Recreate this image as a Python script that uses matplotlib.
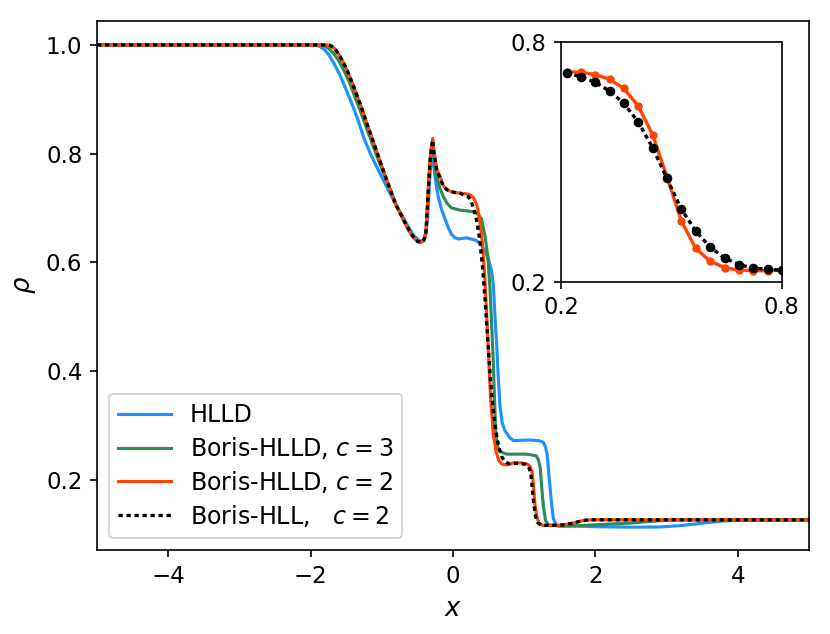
import matplotlib
matplotlib.use("Agg")
import matplotlib.pyplot as plt

# ---------------- data ----------------
# HLLD
x_hlld = [-5.0, -1.95, -1.88, -1.81, -1.74, -1.68, -1.60, -1.54, -1.47, -1.40, -1.33,
          -1.25, -1.15, -1.05, -0.95, -0.85, -0.75, -0.70, -0.62, -0.56, -0.50, -0.46,
          -0.42, -0.39, -0.36, -0.34, -0.32, -0.30, -0.29, -0.275, -0.25, -0.21, -0.16,
          -0.11, -0.06, -0.02, 0.03, 0.08, 0.19, 0.31, 0.38, 0.45, 0.50, 0.54, 0.566,
          0.59, 0.614, 0.635, 0.66, 0.69, 0.73, 0.80, 0.85, 1.08, 1.20, 1.27, 1.30,
          1.32, 1.34, 1.36, 1.385, 1.41, 1.456, 1.60, 1.78, 2.00, 2.49, 2.90, 3.20,
          3.50, 3.80, 4.10, 5.0]
y_hlld = [1.0, 1.0, 0.998, 0.992, 0.981, 0.968, 0.948, 0.930, 0.908, 0.885, 0.860,
          0.828, 0.797, 0.770, 0.744, 0.718, 0.694, 0.682, 0.664, 0.651, 0.643, 0.639,
          0.640, 0.647, 0.675, 0.720, 0.765, 0.800, 0.812, 0.785, 0.755, 0.722, 0.697,
          0.679, 0.662, 0.651, 0.645, 0.643, 0.645, 0.641, 0.636, 0.620, 0.605, 0.585,
          0.560, 0.500, 0.446, 0.390, 0.336, 0.305, 0.290, 0.277, 0.272, 0.273, 0.272,
          0.2686, 0.260, 0.248, 0.220, 0.190, 0.155, 0.128, 0.1155, 0.1148, 0.1144,
          0.1135, 0.1126, 0.113, 0.1155, 0.120, 0.124, 0.1258, 0.126]

# Boris-HLLD, c = 3
x_bh3 = [-5.0, -1.86, -1.80, -1.74, -1.68, -1.61, -1.54, -1.47, -1.40, -1.30, -1.20,
         -1.10, -1.00, -0.90, -0.80, -0.70, -0.60, -0.55, -0.50, -0.45, -0.41, -0.38,
         -0.36, -0.34, -0.32, -0.30, -0.285, -0.27, -0.25, -0.23, -0.18, -0.136, -0.08,
         -0.02, 0.10, 0.24, 0.33, 0.40, 0.45, 0.49, 0.52, 0.545, 0.565, 0.585, 0.60,
         0.625, 0.66, 0.75, 1.03, 1.17, 1.20, 1.225, 1.25, 1.27, 1.30, 1.34, 1.50,
         1.78, 2.00, 2.25, 2.49, 2.75, 3.00, 3.30, 5.0]
y_bh3 = [1.0, 1.0, 0.998, 0.993, 0.985, 0.972, 0.955, 0.936, 0.912, 0.878, 0.842,
         0.806, 0.772, 0.740, 0.707, 0.678, 0.654, 0.645, 0.639, 0.637, 0.641, 0.655,
         0.700, 0.750, 0.790, 0.812, 0.822, 0.800, 0.775, 0.758, 0.735, 0.721, 0.708,
         0.700, 0.696, 0.694, 0.691, 0.680, 0.648, 0.610, 0.550, 0.480, 0.420, 0.340,
         0.290, 0.262, 0.252, 0.247, 0.247, 0.244, 0.236, 0.222, 0.180, 0.150, 0.125,
         0.117, 0.1144, 0.1155, 0.117, 0.1186, 0.120, 0.123, 0.1255, 0.126, 0.126]

# Boris-HLLD, c = 2
x_bh2 = [-5.0, -1.78, -1.72, -1.66, -1.60, -1.54, -1.47, -1.40, -1.30, -1.26, -1.20,
         -1.10, -1.00, -0.90, -0.80, -0.70, -0.65, -0.60, -0.55, -0.50, -0.45, -0.41,
         -0.38, -0.36, -0.34, -0.32, -0.30, -0.285, -0.27, -0.25, -0.23, -0.18, -0.14,
         -0.09, -0.03, 0.05, 0.12, 0.18,
         0.215, 0.254, 0.293, 0.332, 0.371, 0.410, 0.449, 0.488, 0.527, 0.566, 0.605,
         0.645, 0.684, 0.723, 0.762, 0.801,
         0.85, 0.95, 1.04, 1.08, 1.11, 1.13, 1.15, 1.18, 1.21, 1.26, 1.40, 1.55, 1.65,
         1.74, 1.82, 1.92, 2.20, 5.0]
y_bh2 = [1.0, 1.0, 0.999, 0.993, 0.982, 0.968, 0.948, 0.925, 0.890, 0.875, 0.852,
         0.815, 0.777, 0.740, 0.705, 0.680, 0.667, 0.655, 0.645, 0.639, 0.637, 0.641,
         0.655, 0.700, 0.750, 0.790, 0.815, 0.828, 0.806, 0.790, 0.772, 0.757, 0.742,
         0.734, 0.730, 0.728, 0.727, 0.726,
         0.725, 0.7233, 0.718, 0.7058, 0.6833, 0.639, 0.568, 0.4625, 0.3525, 0.2833,
         0.2517, 0.235, 0.229, 0.2275, 0.2275, 0.229,
         0.231, 0.231, 0.229, 0.225, 0.214, 0.190, 0.155, 0.130, 0.120, 0.116, 0.116,
         0.117, 0.119, 0.122, 0.1245, 0.1262, 0.1262, 0.126]

# Boris-HLL, c = 2
x_bl2 = [-5.0, -1.78, -1.72, -1.66, -1.60, -1.54, -1.47, -1.40, -1.30, -1.26, -1.20,
         -1.10, -1.00, -0.90, -0.80, -0.70, -0.65, -0.60, -0.55, -0.50, -0.45, -0.41,
         -0.38, -0.36, -0.34, -0.32, -0.30, -0.285, -0.27, -0.25, -0.23, -0.18, -0.14,
         -0.09, -0.03, 0.05, 0.10, 0.17,
         0.215, 0.254, 0.293, 0.332, 0.371, 0.410, 0.449, 0.488, 0.527, 0.566, 0.605,
         0.645, 0.684, 0.723, 0.762, 0.801,
         0.85, 0.95, 1.02, 1.06, 1.09, 1.11, 1.13, 1.16, 1.19, 1.24, 1.40, 1.55, 1.65,
         1.74, 1.82, 1.92, 2.20, 5.0]
y_bl2 = [1.0, 1.0, 0.999, 0.993, 0.982, 0.968, 0.948, 0.925, 0.890, 0.875, 0.852,
         0.815, 0.777, 0.740, 0.705, 0.680, 0.667, 0.655, 0.645, 0.639, 0.636, 0.640,
         0.655, 0.700, 0.750, 0.790, 0.813, 0.825, 0.804, 0.788, 0.770, 0.755, 0.741,
         0.734, 0.730, 0.728, 0.727, 0.723,
         0.7208, 0.7125, 0.6983, 0.6767, 0.6458, 0.5992, 0.535, 0.4583, 0.3817, 0.3267,
         0.2867, 0.2592, 0.2425, 0.2342, 0.2308, 0.229,
         0.230, 0.230, 0.228, 0.224, 0.214, 0.190, 0.160, 0.132, 0.121, 0.116, 0.116,
         0.117, 0.119, 0.122, 0.1245, 0.1262, 0.1262, 0.126]

# inset (zoom of Boris-HLLD c=2 and Boris-HLL c=2 cells)
x_in = [0.215, 0.254, 0.293, 0.332, 0.371, 0.410, 0.449, 0.488, 0.527, 0.566, 0.605,
        0.645, 0.684, 0.723, 0.762, 0.801]
y_in_bh2 = [0.725, 0.7233, 0.718, 0.7058, 0.6833, 0.639, 0.568, 0.4625, 0.3525, 0.2833,
            0.2517, 0.235, 0.229, 0.2275, 0.2275, 0.229]
y_in_bl2 = [0.7208, 0.7125, 0.6983, 0.6767, 0.6458, 0.5992, 0.535, 0.4583, 0.3817,
            0.3267, 0.2867, 0.2592, 0.2425, 0.2342, 0.2308, 0.229]

labels = ['HLLD', r'Boris-HLLD, $c = 3$', r'Boris-HLLD, $c = 2$', r'Boris-HLL,   $c = 2$']
xticks = [-4, -2, 0, 2, 4]
yticks = [0.2, 0.4, 0.6, 0.8, 1.0]
inset_ticks = [0.2, 0.8]

# ---------------- figure ----------------
DPI = 150
fig = plt.figure(figsize=(830 / DPI, 634 / DPI), dpi=DPI)
ax = fig.add_axes([97 / 830, 1 - 550 / 634, (809 - 97) / 830, (550 - 20.7) / 634])

c_blue, c_green, c_orange = '#1E90FF', '#2E8B57', '#FF4500'
lw = 1.5
ax.plot(x_hlld, y_hlld, color=c_blue, lw=lw, label=labels[0])
ax.plot(x_bh3, y_bh3, color=c_green, lw=lw, label=labels[1])
ax.plot(x_bh2, y_bh2, color=c_orange, lw=lw, label=labels[2])
ax.plot(x_bl2, y_bl2, color='k', lw=1.6, dashes=(1.3, 1.1), label=labels[3])

ax.set_xlim(-5, 5)
ax.set_ylim(0.0706, 1.0446)
ax.set_xticks(xticks)
ax.set_yticks(yticks)
ax.tick_params(labelsize=11)
ax.set_xlabel('$x$', fontsize=12.5)
ax.set_ylabel(r'$\rho$', fontsize=12.5)
ax.legend(loc='lower left', fontsize=11.4, handlelength=2.2, labelspacing=0.33,
          handletextpad=0.8)

# inset
axi = fig.add_axes([561 / 830, 1 - 281.7 / 634, 220.7 / 830, 240 / 634])
axi.plot(x_in, y_in_bh2, '-o', color=c_orange, lw=1.6, ms=3.0)
axi.plot(x_in, y_in_bl2, 'o', color='k', ls=(0, (1.3, 1.1)), lw=1.6, ms=3.6)
axi.set_xlim(0.2, 0.8)
axi.set_ylim(0.2, 0.8)
axi.set_xticks(inset_ticks)
axi.set_yticks(inset_ticks)
axi.set_xticklabels(['0.2', '0.8'])
axi.set_yticklabels(['0.2', '0.8'])
axi.tick_params(labelsize=10.8)

fig.savefig('out.png', dpi=DPI)
